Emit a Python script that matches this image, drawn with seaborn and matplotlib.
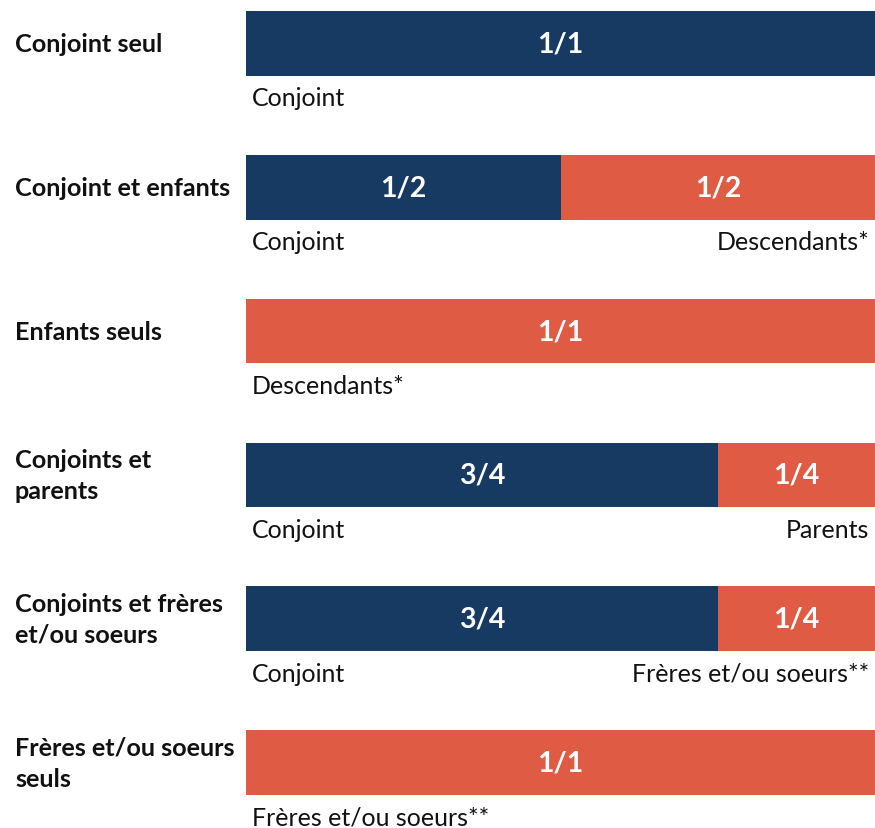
import numpy as np
import pandas as pd
import matplotlib
matplotlib.use("Agg")
import matplotlib.pyplot as plt
import matplotlib.transforms as mtransforms
import seaborn as sns

categories = [
    "Conjoint seul",
    "Conjoint et enfants",
    "Enfants seuls",
    "Conjoints et\nparents",
    "Conjoints et frères\net/ou soeurs",
    "Frères et/ou soeurs\nseuls",
]
conjoint_share = [1.0, 0.5, 0.0, 0.75, 0.75, 0.0]
other_share = [0.0, 0.5, 1.0, 0.25, 0.25, 1.0]
conjoint_frac = ["1/1", "1/2", "", "3/4", "3/4", ""]
other_frac = ["", "1/2", "1/1", "1/4", "1/4", "1/1"]
conjoint_name = ["Conjoint", "Conjoint", "", "Conjoint", "Conjoint", ""]
other_name = ["", "Descendants*", "Descendants*", "Parents",
              "Frères et/ou soeurs**", "Frères et/ou soeurs**"]

NAVY = "#173A63"
ORANGE = "#E05B43"

sns.set_style("white")
plt.rcParams["font.family"] = ["Lato", "DejaVu Sans"]

df = pd.DataFrame({
    "cat": categories,
    "conjoint": conjoint_share,
    "total": np.array(conjoint_share) + np.array(other_share),
})

fig = plt.figure(figsize=(8.75, 8.29), dpi=100)
ax = fig.add_axes([246 / 875, 0, 1 - 246 / 875, 1])

# orange = full bar, navy (spouse share) drawn on top -> stacked look
sns.barplot(data=df, x="total", y="cat", orient="h", color=ORANGE,
            width=0.45, linewidth=0, saturation=1, ax=ax)
sns.barplot(data=df, x="conjoint", y="cat", orient="h", color=NAVY,
            width=0.45, linewidth=0, saturation=1, ax=ax)

ax.set_xlim(0, 1)
ax.set_ylim(5.455, -0.309)
ax.set_axis_off()

lab_tr = mtransforms.blended_transform_factory(fig.transFigure, ax.transData)
for i, cat in enumerate(categories):
    c = conjoint_share[i]
    o = other_share[i]
    ax.text(15 / 875, i, cat, transform=lab_tr, ha="left", va="center",
            fontsize=18.2, fontweight="bold", color="#111111", linespacing=1.42)
    if conjoint_frac[i]:
        ax.text(c / 2, i, conjoint_frac[i], ha="center", va="center",
                fontsize=20.5, fontweight="bold", color="white")
    if other_frac[i]:
        ax.text(c + o / 2, i, other_frac[i], ha="center", va="center",
                fontsize=20.5, fontweight="bold", color="white")
    bottom = i + 0.225
    if conjoint_name[i]:
        ax.annotate(conjoint_name[i], (0, bottom), xytext=(4.3, -15.8),
                    textcoords="offset points", ha="left", va="center",
                    fontsize=18, color="#111111")
    if other_name[i]:
        if c > 0:
            ax.annotate(other_name[i], (1, bottom), xytext=(-4.3, -15.8),
                        textcoords="offset points", ha="right", va="center",
                        fontsize=18, color="#111111")
        else:
            ax.annotate(other_name[i], (0, bottom), xytext=(4.3, -15.8),
                        textcoords="offset points", ha="left", va="center",
                        fontsize=18, color="#111111")

fig.savefig("out.png", dpi=100)
